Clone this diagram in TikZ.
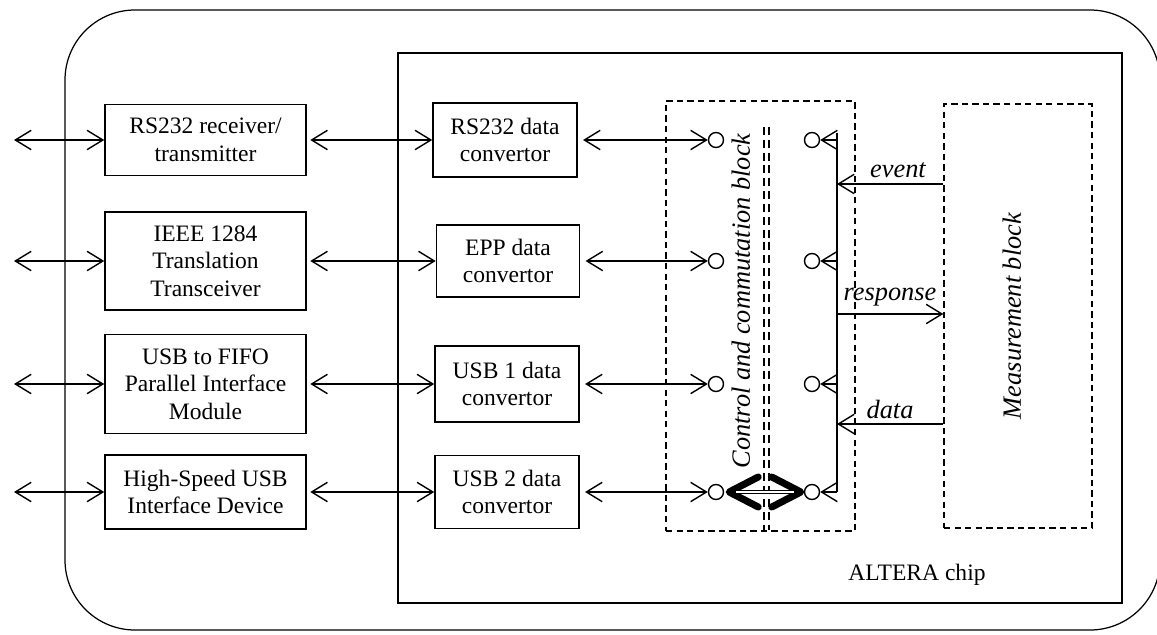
\documentclass[tikz,border=0pt]{standalone}
\usepackage{fontspec}
\setmainfont{Liberation Serif}
\usetikzlibrary{arrows.meta,calc}

\tikzset{
  box/.style={draw, line width=0.9pt, align=center, inner sep=0pt},
  dashbox/.style={draw, dash pattern=on 3.6pt off 2.4pt, line width=0.8pt},
  pin/.style={draw, circle, line width=0.8pt, minimum size=0.3cm, inner sep=0pt},
  lbl/.style={font=\fontsize{15}{18}\selectfont\itshape},
  chev/.style={line width=4pt, line cap=round, line join=round},
}

\begin{document}
\begin{tikzpicture}[x=0.02cm, y=-0.02cm, line width=0.8pt,
  >={Straight Barb[length=9pt,width=11pt]},
  font=\fontsize{13.4}{15.6}\selectfont]
\useasboundingbox (0,0) rectangle (1157,635);

% board and chip
\draw[rounded corners=1.4cm, line width=0.7pt] (65,10) rectangle (1160,630);
\draw[line width=0.9pt] (398,53) rectangle (1122,603);
\node (chip) at (917,575) {ALTERA chip};

% interface modules
\node[box, minimum width=4.02cm, minimum height=1.42cm] (lb1) at (205.5,140) {RS232 receiver/\\transmitter};
\node[box, minimum width=4.02cm, minimum height=1.96cm] (lb2) at (205.5,261) {IEEE 1284\\Translation\\Transceiver};
\node[box, minimum width=4.02cm, minimum height=1.98cm] (lb3) at (205.5,384) {USB to FIFO\\Parallel Interface\\Module};
\node[box, minimum width=4.02cm, minimum height=1.48cm] (lb4) at (205.5,492) {High-Speed USB\\Interface Device};

% convertors
\node[box, minimum width=2.88cm, minimum height=1.48cm] (mb1) at (505,140) {RS232 data\\convertor};
\node[box, minimum width=2.86cm, minimum height=1.44cm] (mb2) at (508,261) {EPP data\\convertor};
\node[box, minimum width=2.88cm, minimum height=1.52cm] (mb3) at (507,384) {USB 1 data\\convertor};
\node[box, minimum width=2.88cm, minimum height=1.46cm] (mb4) at (507,492) {USB 2 data\\convertor};

\foreach \i/\y in {1/140,2/261,3/384,4/492} {
  \node[pin] (cl\i) at (716,\y) {};
  \node[pin] (cr\i) at (812,\y) {};
  \coordinate (ext\i) at (14,\y);
  \coordinate (bus\i) at (837,\y);
}

\foreach \i in {1,...,4} {
  \draw[<->] (ext\i) -- (lb\i.west);
  \draw[<->, shorten <=2pt] (lb\i.east) -- (mb\i.west);
  \draw[<->, shorten <=3pt] (mb\i.east) -- (cl\i.west);
  \draw[->] (bus\i) -- (cr\i.east);
}
\draw ([yshift=4pt]bus1) -- (bus4);

% control and commutation block
\node[dashbox, minimum width=3.78cm, minimum height=8.6cm] (ctrl) at (760.5,316) {};
\node[lbl, rotate=90] (ctrltxt) at (741,301) {Control and commutation block};
\draw[line width=1pt, dash pattern=on 4.5pt off 2.8pt] (764,127) -- (764,530);
\draw[line width=1pt, dash pattern=on 4.5pt off 2.8pt] (769,127) -- (769,530);

\draw[chev] ($(cl4.east)+(34,-15)$) -- ($(cl4.east)+(5,0)$) -- ($(cl4.east)+(34,15)$);
\draw[chev] ($(cr4.west)+(-32,-15)$) -- ($(cr4.west)+(-3,0)$) -- ($(cr4.west)+(-32,15)$);
\draw[double, double distance=1.4pt, line width=0.7pt] ($(cl4.east)+(12,0)$) -- ($(cr4.west)+(-10,0)$);

% measurement block
\node[dashbox, minimum width=2.96cm, minimum height=8.48cm] (meas) at (1018,316) {};
\node[lbl, rotate=90] (meastxt) at (1012,316) {Measurement block};

\coordinate (ev) at (837,184);
\coordinate (rs) at (837,314);
\coordinate (dt) at (837,424);
\draw[->] (meas.west |- ev) -- (ev);
\draw[->] (rs) -- (rs -| meas.west);
\draw[->] (meas.west |- dt) -- (dt);
\node[lbl] (evtxt) at (898,170) {event};
\node[lbl] (rstxt) at (890,297) {response};
\node[lbl] (dttxt) at (890,409) {data};
\end{tikzpicture}
\end{document}
